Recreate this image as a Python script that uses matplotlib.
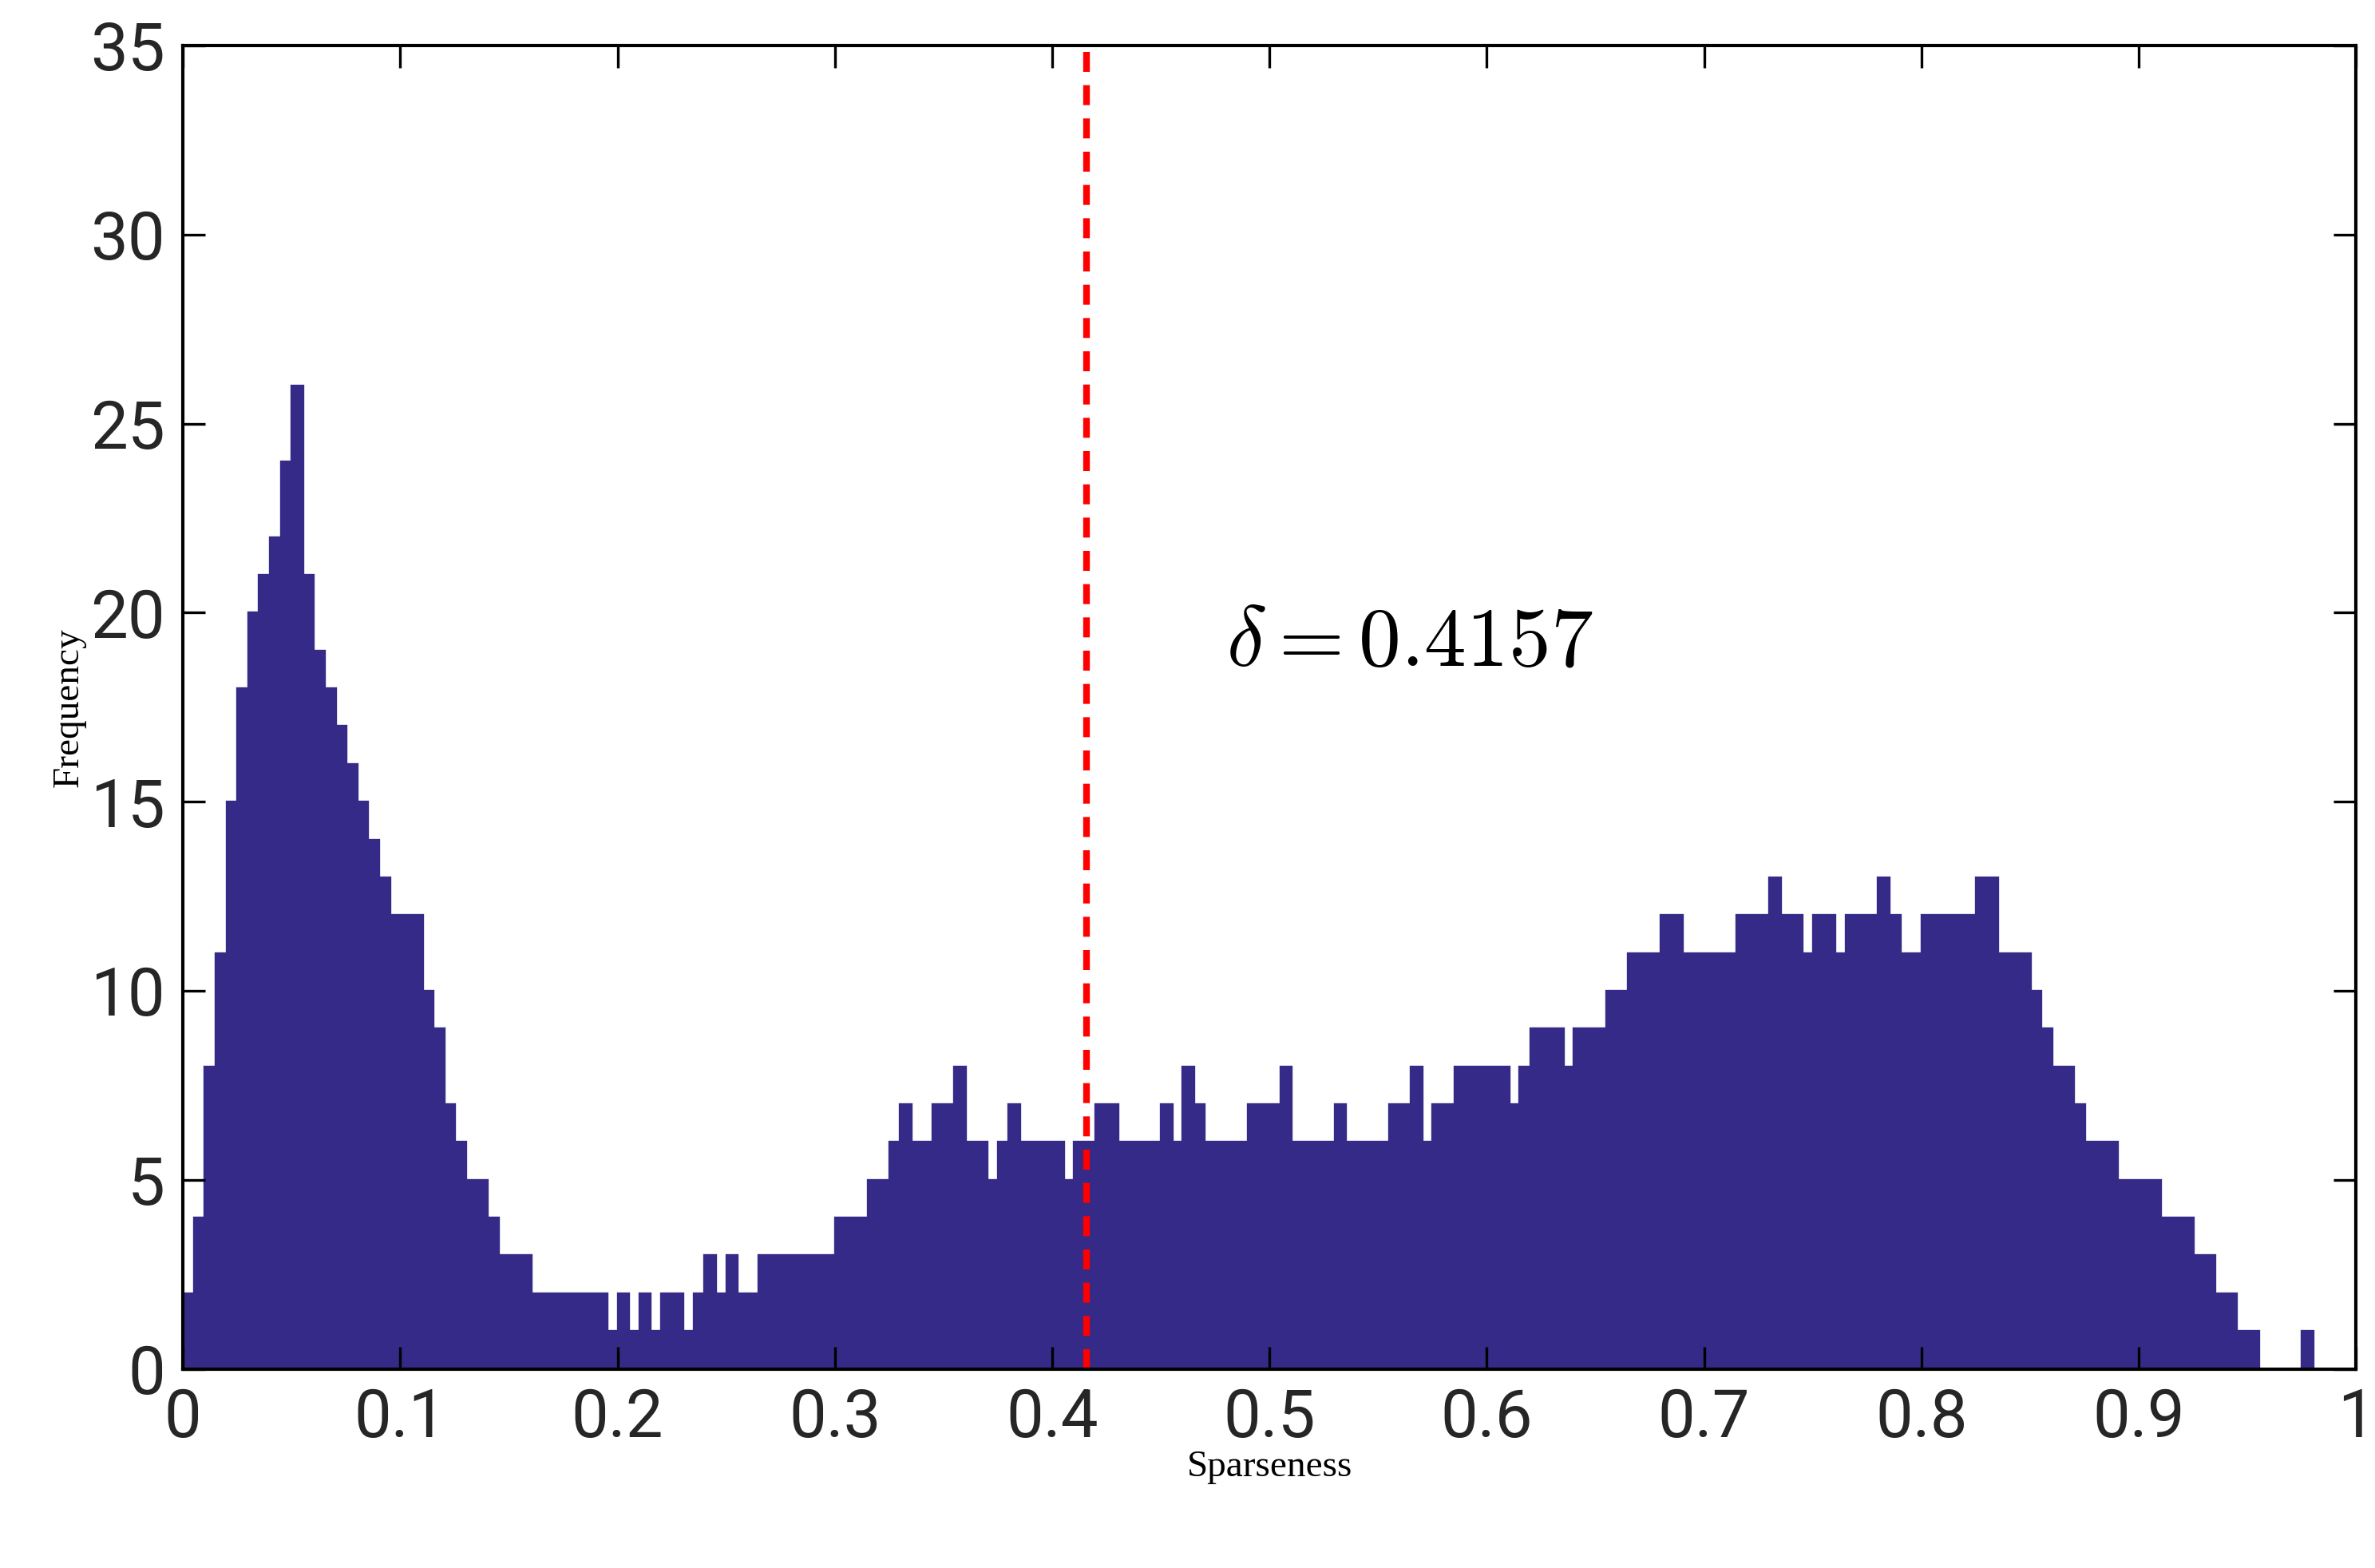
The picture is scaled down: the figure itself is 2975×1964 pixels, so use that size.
import numpy as np
import matplotlib
matplotlib.use("Agg")
import matplotlib.pyplot as plt

# bar heights, bins of width 0.005 from 0 to 1
counts = [
    2, 4, 8, 11, 15, 18, 20, 21, 22, 24, 26, 21, 19, 18, 17, 16, 15, 14, 13, 12,
    12, 12, 10, 9, 7, 6, 5, 5, 4, 3, 3, 3, 2, 2, 2, 2, 2, 2, 2, 1,
    2, 1, 2, 1, 2, 2, 1, 2, 3, 2, 3, 2, 2, 3, 3, 3, 3, 3, 3, 3,
    4, 4, 4, 5, 5, 6, 7, 6, 6, 7, 7, 8, 6, 6, 5, 6, 7, 6, 6, 6,
    6, 5, 6, 6, 7, 7, 6, 6, 6, 6, 7, 6, 8, 7, 6, 6, 6, 6, 7, 7,
    7, 8, 6, 6, 6, 6, 7, 6, 6, 6, 6, 7, 7, 8, 6, 7, 7, 8, 8, 8,
    8, 8, 7, 8, 9, 9, 9, 8, 9, 9, 9, 10, 10, 11, 11, 11, 12, 12, 11, 11,
    11, 11, 11, 12, 12, 12, 13, 12, 12, 11, 12, 12, 11, 12, 12, 12, 13, 12, 11, 11,
    12, 12, 12, 12, 12, 13, 13, 11, 11, 11, 10, 9, 8, 8, 7, 6, 6, 6, 5, 5,
    5, 5, 4, 4, 4, 3, 3, 2, 2, 1, 1, 0, 0, 0, 0, 1, 0, 0, 0, 0,
]
edges = np.linspace(0, 1, len(counts) + 1)
delta = 0.4157
xticks = [0, 0.1, 0.2, 0.3, 0.4, 0.5, 0.6, 0.7, 0.8, 0.9, 1]
xticklabels = ["0", "0.1", "0.2", "0.3", "0.4", "0.5", "0.6", "0.7", "0.8", "0.9", "1"]
yticks = [0, 5, 10, 15, 20, 25, 30, 35]

fig = plt.figure(figsize=(14.875, 9.82), dpi=200)
ax = fig.add_axes([0.077, 0.127, 0.915, 0.844])
ax.stairs(counts, edges, fill=True, color="#352a87")
ax.stairs(counts, edges, color="#352a87", linewidth=1.2)
ax.axvline(delta, color="#ff0000", linestyle=(0, (3, 2)), linewidth=3)
ax.text(0.48, 18.6, r"$\delta = 0.4157$", fontsize=38, math_fontfamily="cm")

ax.set_xlim(0, 1)
ax.set_ylim(0, 35)
ax.set_xticks(xticks)
ax.set_xticklabels(xticklabels)
ax.set_yticks(yticks)
ax.tick_params(direction="in", top=True, right=True, length=10, width=1.2,
               labelsize=30, pad=8)
for lab in ax.get_xticklabels() + ax.get_yticklabels():
    lab.set_fontfamily("Roboto")
    lab.set_color("#262626")
for s in ax.spines.values():
    s.set_linewidth(1.5)
ax.set_xlabel("Sparseness", fontsize=17, family="Liberation Serif", labelpad=0)
ax.set_ylabel("Frequency", fontsize=17, family="Liberation Serif", labelpad=2)
fig.savefig("out.png")
